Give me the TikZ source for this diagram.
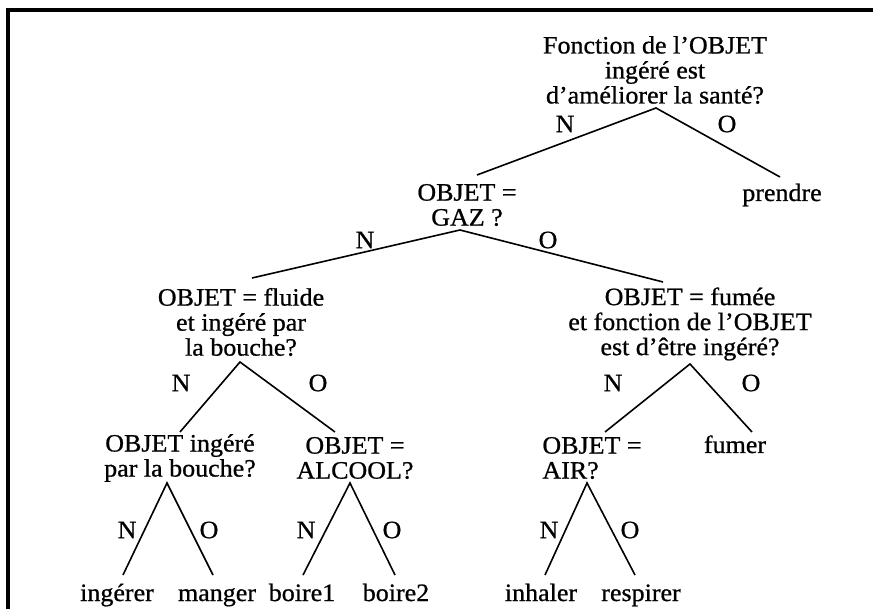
\documentclass[tikz,border=0pt]{standalone}
\usepackage{fontspec}
\setmainfont[FakeStretch=1.04,FakeBold=0.8]{Liberation Serif}
\begin{document}
\begin{tikzpicture}[x=1pt,y=-1pt,
  txt/.style={inner sep=0pt,align=center,font=\fontsize{25}{25}\selectfont},
  one/.style={txt,anchor=base},
  lbl/.style={inner sep=0pt,font=\fontsize{25}{25}\selectfont},
  br/.style={line width=1.6pt},
  frame/.style={line width=3.5pt}]
\useasboundingbox (0,0) rectangle (873,609);
% frame
\coordinate (f1) at (8,609);
\coordinate (f2) at (8,10);
\coordinate (f3) at (873,10);
\draw[frame] (f1) -- (f2) -- (f3);
% question nodes
\node[txt] (root) at (655,70) {Fonction de l'OBJET\\ingéré est\\d'améliorer la santé?};
\node[txt] (gaz) at (467,205) {OBJET =\\GAZ ?};
\node[one] (prendre) at (782,201) {prendre};
\node[txt] (fluide) at (241,322) {OBJET = fluide\\et ingéré par\\la bouche?};
\node[txt] (fumee) at (690,324) {OBJET = fumée\\et fonction de l'OBJET\\est d'être ingéré?};
\node[txt] (ingere) at (180,458) {OBJET ingéré\\par la bouche?};
\node[txt] (alcool) at (355,458) {OBJET =\\ALCOOL?};
\node[txt,align=left] (air) at (592,458) {OBJET =\\AIR?};
\node[one] (fumer) at (735,453) {fumer};
% leaves
\node[one] (l1) at (117,601) {ingérer};
\node[one] (l2) at (217,601) {manger};
\node[one] (l3) at (302,601) {boire1};
\node[one] (l4) at (396,601) {boire2};
\node[one] (l5) at (541,601) {inhaler};
\node[one] (l6) at (641,601) {respirer};
% labels
\node[lbl] (n1) at (565,124) {N};
\node[lbl] (o1) at (727,124) {O};
\node[lbl] (n2) at (365,240) {N};
\node[lbl] (o2) at (548,240) {O};
\node[lbl] (n3) at (181,383) {N};
\node[lbl] (o3) at (318,383) {O};
\node[lbl] (n4) at (613,383) {N};
\node[lbl] (o4) at (751,383) {O};
\node[lbl] (n5) at (127,530) {N};
\node[lbl] (o5) at (209,530) {O};
\node[lbl] (n6) at (306,530) {N};
\node[lbl] (o6) at (392,530) {O};
\node[lbl] (n7) at (549,530) {N};
\node[lbl] (o7) at (630,530) {O};
% branch points
\coordinate (a1) at (656,108);
\coordinate (a1l) at (477,175);
\coordinate (a1r) at (780,177);
\coordinate (a2) at (460,230);
\coordinate (a2l) at (252,278);
\coordinate (a2r) at (663,282);
\coordinate (a3) at (240,362);
\coordinate (a3l) at (180,432);
\coordinate (a3r) at (335,432);
\coordinate (a4) at (690,364);
\coordinate (a4l) at (605,432);
\coordinate (a4r) at (752,432);
\coordinate (a5) at (167,483);
\coordinate (a5l) at (123,575);
\coordinate (a5r) at (213,575);
\coordinate (a6) at (350,483);
\coordinate (a6l) at (303,575);
\coordinate (a6r) at (395,575);
\coordinate (a7) at (587,483);
\coordinate (a7l) at (545,575);
\coordinate (a7r) at (635,575);
\draw[br] (a1l) -- (a1) -- (a1r);
\draw[br] (a2l) -- (a2) -- (a2r);
\draw[br] (a3l) -- (a3) -- (a3r);
\draw[br] (a4l) -- (a4) -- (a4r);
\draw[br] (a5l) -- (a5) -- (a5r);
\draw[br] (a6l) -- (a6) -- (a6r);
\draw[br] (a7l) -- (a7) -- (a7r);
\end{tikzpicture}
\end{document}
